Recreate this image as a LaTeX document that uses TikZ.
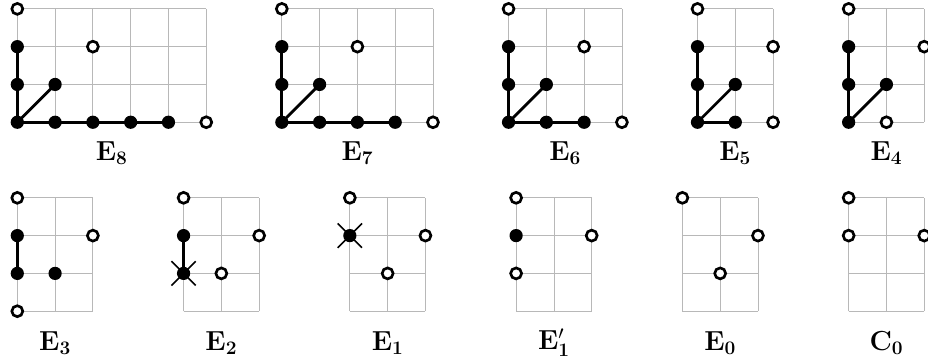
\documentclass[tikz,border=0pt]{standalone}
\usetikzlibrary{shapes.misc}
\tikzset{
  gridline/.style={draw=black!28, line width=0.6pt},
  full/.style={circle, fill=black, inner sep=0pt, minimum size=0.35cm},
  hollow/.style={circle, draw=black, fill=white, line width=2pt, inner sep=0pt, minimum size=0.29cm},
  bond/.style={line width=2.1pt},
  xmark/.style={cross out, draw=black, line width=1.2pt, inner sep=0pt, minimum width=0.6cm, minimum height=0.6cm},
  lab/.style={font=\fontsize{20}{24}\selectfont, inner sep=0pt}
}
\begin{document}
\begin{tikzpicture}
\useasboundingbox (-0.458,-6.29) rectangle (24.1,3.235);
% ---------- E8 ----------
\begin{scope}[shift={(0,0)}]
\draw[gridline] (0,0) grid (5,3);
\node[full] (e8a) at (0,0) {};
\node[full] (e8b) at (1,0) {};
\node[full] (e8c) at (2,0) {};
\node[full] (e8d) at (3,0) {};
\node[full] (e8e) at (4,0) {};
\node[full] (e8f) at (0,1) {};
\node[full] (e8g) at (0,2) {};
\node[full] (e8h) at (1,1) {};
\draw[bond] (e8a.center) -- (e8e.center);
\draw[bond] (e8a.center) -- (e8g.center);
\draw[bond] (e8a.center) -- (e8h.center);
\node[hollow] (e8i) at (5,0) {};
\node[hollow] (e8j) at (0,3) {};
\node[hollow] (e8k) at (2,2) {};
\node[lab] (e8l) at (2.5,-0.82) {$\mathbf{E_8}$};
\end{scope}
% ---------- E7 ----------
\begin{scope}[shift={(7,0)}]
\draw[gridline] (0,0) grid (4,3);
\node[full] (e7a) at (0,0) {};
\node[full] (e7b) at (1,0) {};
\node[full] (e7c) at (2,0) {};
\node[full] (e7d) at (3,0) {};
\node[full] (e7f) at (0,1) {};
\node[full] (e7g) at (0,2) {};
\node[full] (e7h) at (1,1) {};
\draw[bond] (e7a.center) -- (e7d.center);
\draw[bond] (e7a.center) -- (e7g.center);
\draw[bond] (e7a.center) -- (e7h.center);
\node[hollow] (e7i) at (4,0) {};
\node[hollow] (e7j) at (0,3) {};
\node[hollow] (e7k) at (2,2) {};
\node[lab] (e7l) at (2,-0.82) {$\mathbf{E_7}$};
\end{scope}
% ---------- E6 ----------
\begin{scope}[shift={(13,0)}]
\draw[gridline] (0,0) grid (3,3);
\node[full] (e6a) at (0,0) {};
\node[full] (e6b) at (1,0) {};
\node[full] (e6c) at (2,0) {};
\node[full] (e6f) at (0,1) {};
\node[full] (e6g) at (0,2) {};
\node[full] (e6h) at (1,1) {};
\draw[bond] (e6a.center) -- (e6c.center);
\draw[bond] (e6a.center) -- (e6g.center);
\draw[bond] (e6a.center) -- (e6h.center);
\node[hollow] (e6i) at (3,0) {};
\node[hollow] (e6j) at (0,3) {};
\node[hollow] (e6k) at (2,2) {};
\node[lab] (e6l) at (1.5,-0.82) {$\mathbf{E_6}$};
\end{scope}
% ---------- E5 ----------
\begin{scope}[shift={(18,0)}]
\draw[gridline] (0,0) grid (2,3);
\node[full] (e5a) at (0,0) {};
\node[full] (e5b) at (1,0) {};
\node[full] (e5f) at (0,1) {};
\node[full] (e5g) at (0,2) {};
\node[full] (e5h) at (1,1) {};
\draw[bond] (e5a.center) -- (e5b.center);
\draw[bond] (e5a.center) -- (e5g.center);
\draw[bond] (e5a.center) -- (e5h.center);
\node[hollow] (e5i) at (2,0) {};
\node[hollow] (e5j) at (0,3) {};
\node[hollow] (e5k) at (2,2) {};
\node[lab] (e5l) at (1,-0.82) {$\mathbf{E_5}$};
\end{scope}
% ---------- E4 ----------
\begin{scope}[shift={(22,0)}]
\draw[gridline] (0,0) grid (2,3);
\node[full] (e4a) at (0,0) {};
\node[full] (e4f) at (0,1) {};
\node[full] (e4g) at (0,2) {};
\node[full] (e4h) at (1,1) {};
\draw[bond] (e4a.center) -- (e4g.center);
\draw[bond] (e4a.center) -- (e4h.center);
\node[hollow] (e4i) at (1,0) {};
\node[hollow] (e4j) at (0,3) {};
\node[hollow] (e4k) at (2,2) {};
\node[lab] (e4l) at (1,-0.82) {$\mathbf{E_4}$};
\end{scope}
% ---------- E3 ----------
\begin{scope}[shift={(0,-5)}]
\draw[gridline] (0,0) grid (2,3);
\node[full] (e3a) at (0,2) {};
\node[full] (e3b) at (0,1) {};
\node[full] (e3c) at (1,1) {};
\draw[bond] (e3a.center) -- (e3b.center);
\node[hollow] (e3d) at (0,3) {};
\node[hollow] (e3e) at (0,0) {};
\node[hollow] (e3f) at (2,2) {};
\node[lab] (e3l) at (1,-0.84) {$\mathbf{E_3}$};
\end{scope}
% ---------- E2 ----------
\begin{scope}[shift={(4.4,-5)}]
\draw[gridline] (0,0) grid (2,3);
\node[xmark] (e2x) at (0,1) {};
\node[full] (e2a) at (0,2) {};
\node[full] (e2b) at (0,1) {};
\draw[bond] (e2a.center) -- (e2b.center);
\node[hollow] (e2c) at (1,1) {};
\node[hollow] (e2d) at (0,3) {};
\node[hollow] (e2e) at (2,2) {};
\node[lab] (e2l) at (1,-0.84) {$\mathbf{E_2}$};
\end{scope}
% ---------- E1 ----------
\begin{scope}[shift={(8.8,-5)}]
\draw[gridline] (0,0) grid (2,3);
\node[xmark] (e1x) at (0,2) {};
\node[full] (e1a) at (0,2) {};
\node[hollow] (e1c) at (1,1) {};
\node[hollow] (e1d) at (0,3) {};
\node[hollow] (e1e) at (2,2) {};
\node[lab] (e1l) at (1,-0.84) {$\mathbf{E_1}$};
\end{scope}
% ---------- E1' ----------
\begin{scope}[shift={(13.2,-5)}]
\draw[gridline] (0,0) grid (2,3);
\node[full] (f1a) at (0,2) {};
\node[hollow] (f1c) at (0,1) {};
\node[hollow] (f1d) at (0,3) {};
\node[hollow] (f1e) at (2,2) {};
\node[lab] (f1l) at (1,-0.84) {$\mathbf{E}'_{\mathbf{1}}$};
\end{scope}
% ---------- E0 ----------
\begin{scope}[shift={(17.6,-5)}]
\draw[gridline] (0,0) grid (2,3);
\node[hollow] (e0c) at (1,1) {};
\node[hollow] (e0d) at (0,3) {};
\node[hollow] (e0e) at (2,2) {};
\node[lab] (e0l) at (1,-0.84) {$\mathbf{E_0}$};
\end{scope}
% ---------- C0 ----------
\begin{scope}[shift={(22,-5)}]
\draw[gridline] (0,0) grid (2,3);
\node[hollow] (c0c) at (0,2) {};
\node[hollow] (c0d) at (0,3) {};
\node[hollow] (c0e) at (2,2) {};
\node[lab] (c0l) at (1,-0.84) {$\mathbf{C_0}$};
\end{scope}
\end{tikzpicture}
\end{document}
